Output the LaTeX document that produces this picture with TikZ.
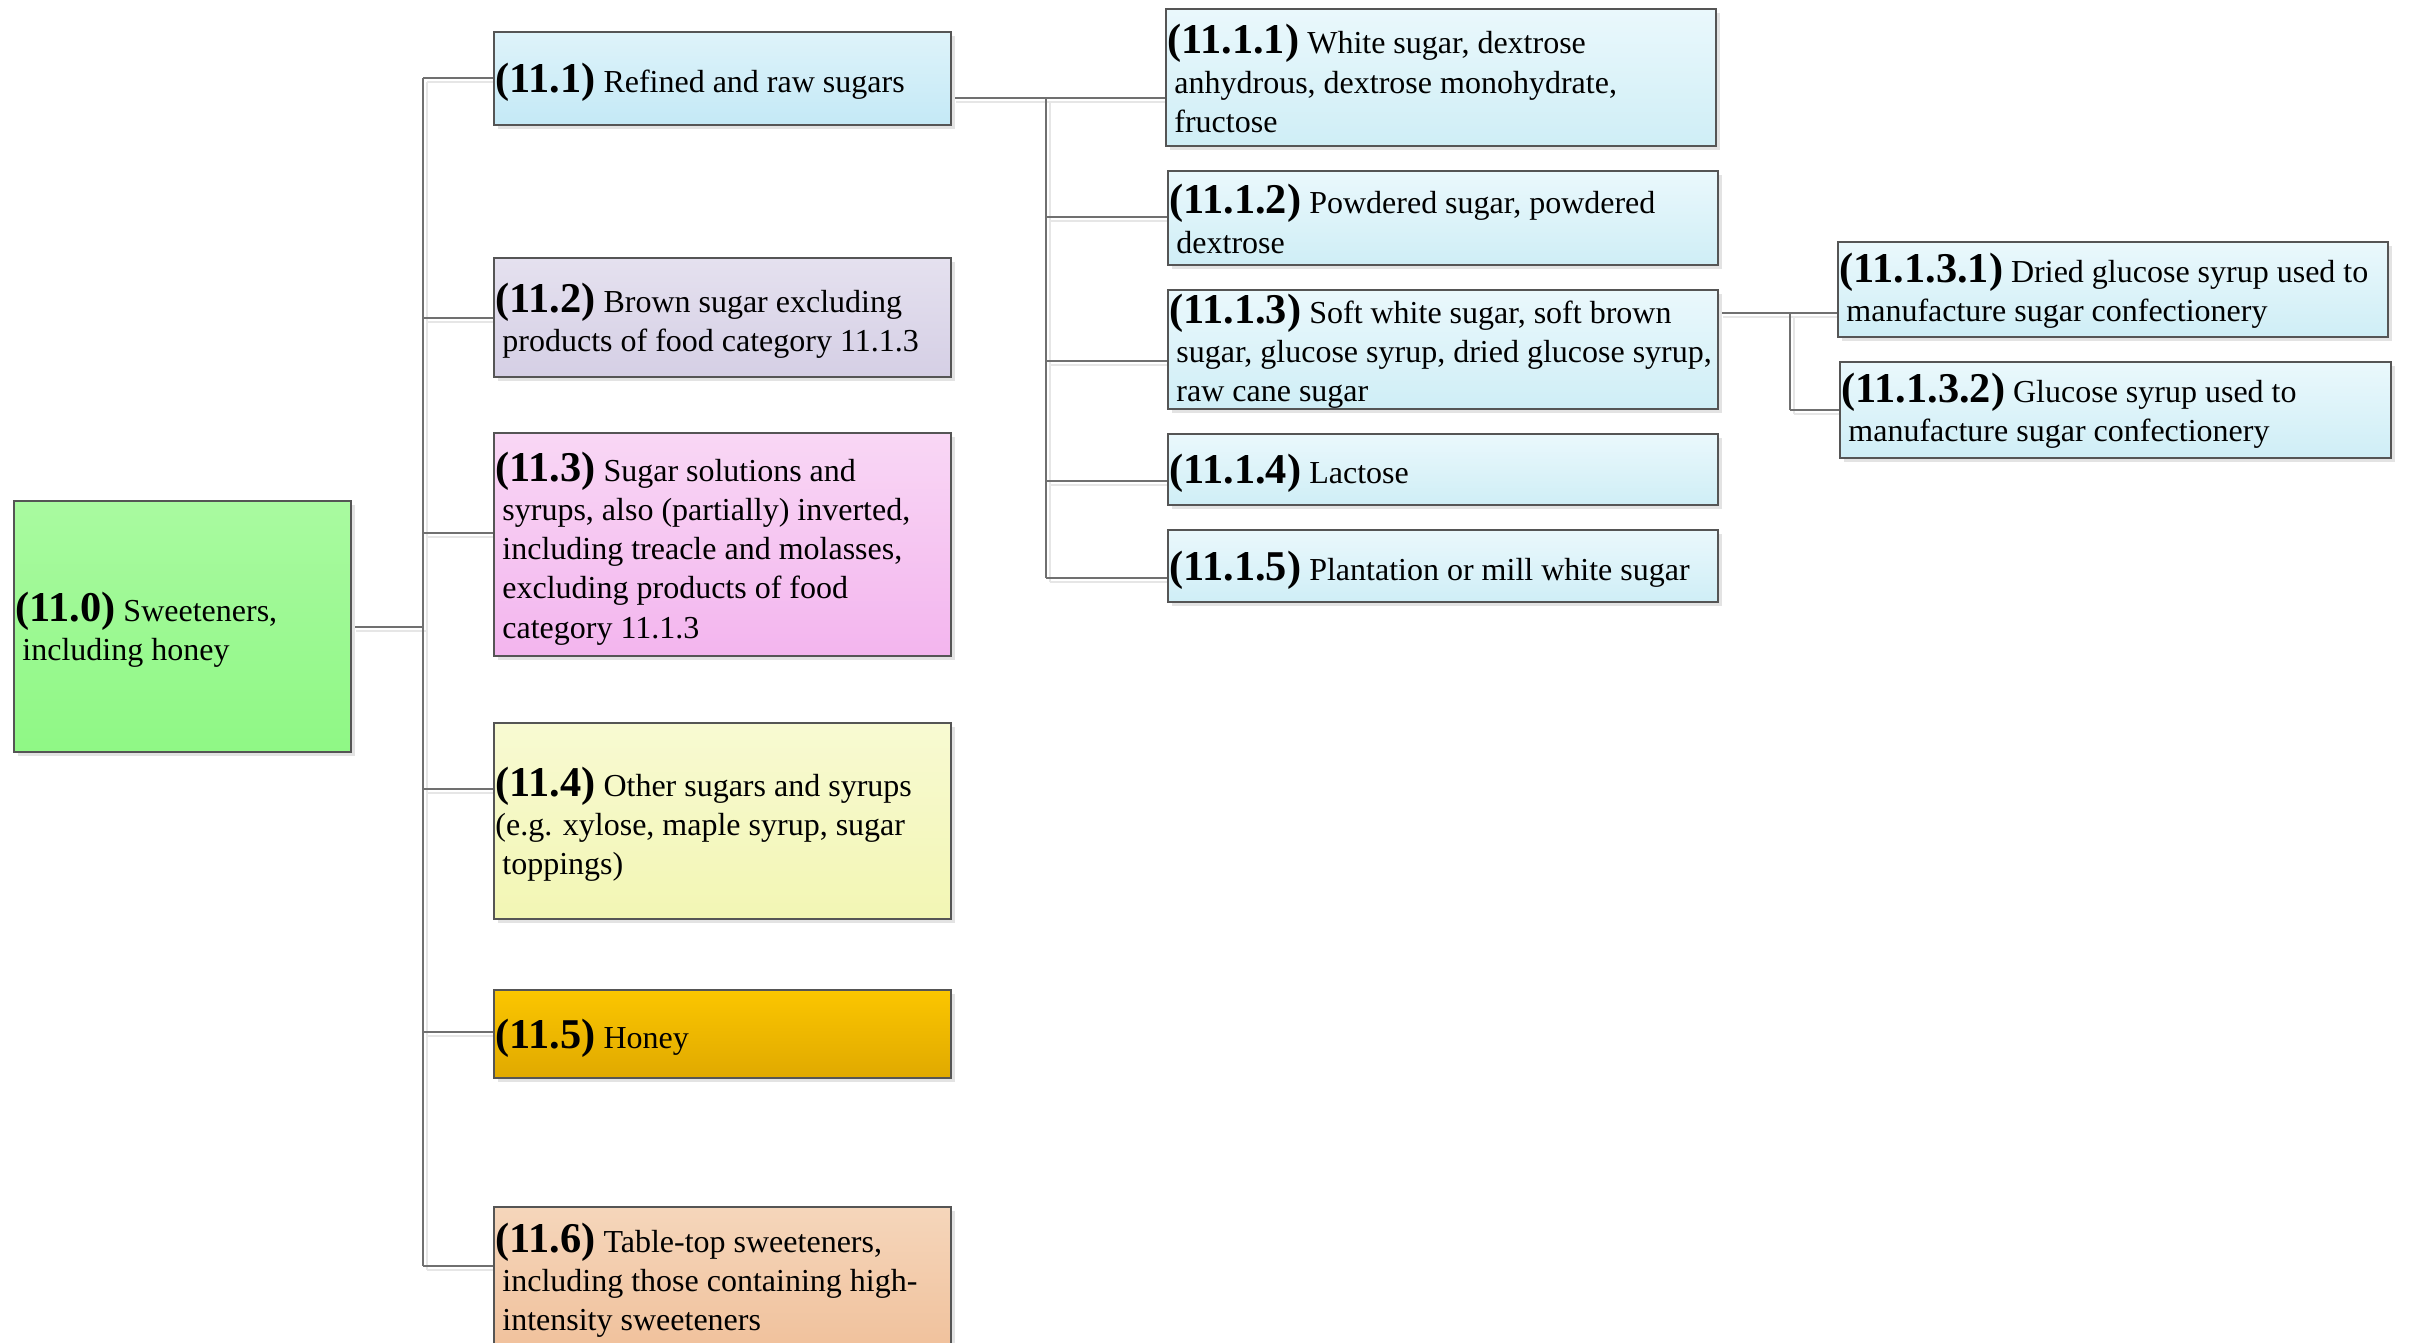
\documentclass[tikz,border=0pt]{standalone}
\usepackage{fontspec}
\setmainfont{Liberation Serif}
\usetikzlibrary{calc,shadows,backgrounds}

\definecolor{boxline}{HTML}{555555}
\definecolor{wire}{HTML}{707070}
\definecolor{wireshade}{HTML}{E6E6E6}

% bold category number
\newcommand{\catnum}[1]{{\fontsize{21.2pt}{24pt}\selectfont\bfseries #1}}

\tikzset{
  catbox/.style={draw=boxline, line width=1pt, inner sep=0pt, rectangle,
    general shadow={fill=black!11, shadow xshift=2pt, shadow yshift=-2pt}},
  greenfill/.style={top color={rgb,255:red,169;green,250;blue,160}, bottom color={rgb,255:red,143;green,248;blue,133}},
  bluefill/.style={top color={rgb,255:red,222;green,243;blue,250}, bottom color={rgb,255:red,196;green,233;blue,246}},
  cyanfill/.style={top color={rgb,255:red,234;green,248;blue,252}, bottom color={rgb,255:red,207;green,238;blue,246}},
  lilacfill/.style={top color={rgb,255:red,229;green,225;blue,239}, bottom color={rgb,255:red,213;green,207;blue,229}},
  pinkfill/.style={top color={rgb,255:red,249;green,215;blue,245}, bottom color={rgb,255:red,243;green,181;blue,238}},
  yellowfill/.style={top color={rgb,255:red,248;green,250;blue,210}, bottom color={rgb,255:red,242;green,246;blue,180}},
  orangefill/.style={top color={rgb,255:red,251;green,198;blue,0}, bottom color={rgb,255:red,224;green,169;blue,0}},
  peachfill/.style={top color={rgb,255:red,245;green,214;blue,187}, bottom color={rgb,255:red,240;green,192;blue,154}},
  txt/.style={anchor=west, align=left, inner sep=0pt,
    font=\fontsize{16pt}{19.6pt}\selectfont},
  conn/.style={draw=wire, line width=1pt},
  connshade/.style={draw=wireshade, line width=1pt},
}

% all connector paths, drawn once as a soft shadow and once as the line
\newcommand{\wirepaths}[1]{%
  % main trunk from 11.0
  \draw[#1] (n110.east) -- (n110.east -| trunk);
  \draw[#1] (trunk |- a111) -- (trunk |- a116);
  \draw[#1] (trunk |- a111) -- (a111);
  \draw[#1] (trunk |- a112) -- (a112);
  \draw[#1] (trunk |- a113) -- (a113);
  \draw[#1] (trunk |- a114) -- (a114);
  \draw[#1] (trunk |- a115) -- (a115);
  \draw[#1] (trunk |- a116) -- (a116);
  % branch from 11.1
  \draw[#1] (o111) -- (o111 -| trunkb);
  \draw[#1] (trunkb |- o111) -- (trunkb |- a1115);
  \draw[#1] (trunkb |- a1111) -- (a1111);
  \draw[#1] (trunkb |- a1112) -- (a1112);
  \draw[#1] (trunkb |- a1113) -- (a1113);
  \draw[#1] (trunkb |- a1114) -- (a1114);
  \draw[#1] (trunkb |- a1115) -- (a1115);
  % branch from 11.1.3
  \draw[#1] (o1113) -- (a11131);
  \draw[#1] (trunkc |- o1113) -- (trunkc |- a11132);
  \draw[#1] (trunkc |- a11132) -- (a11132);
}

\begin{document}
\begin{tikzpicture}[x=0.5pt, y=-0.5pt]
\useasboundingbox (0,0) rectangle (2411,1343);

% ---- boxes ----
\node[catbox, greenfill, minimum width=168.5pt, minimum height=125.5pt] (n110) at (182.5,626.5) {};
\node[catbox, bluefill,  minimum width=228.5pt, minimum height=46.5pt]  (n111) at (722.5,78.5) {};
\node[catbox, lilacfill, minimum width=228.5pt, minimum height=59.5pt]  (n112) at (722.5,317.5) {};
\node[catbox, pinkfill,  minimum width=228.5pt, minimum height=111.5pt] (n113) at (722.5,544.5) {};
\node[catbox, yellowfill,minimum width=228.5pt, minimum height=98pt]    (n114) at (722.5,821) {};
\node[catbox, orangefill,minimum width=228.5pt, minimum height=44pt]    (n115) at (722.5,1034) {};
\node[catbox, peachfill, minimum width=228.5pt, minimum height=75pt]    (n116) at (722.5,1282) {};

\node[catbox, cyanfill, minimum width=275pt, minimum height=68.5pt] (n1111) at (1441,77.5) {};
\node[catbox, cyanfill, minimum width=275pt, minimum height=47pt]   (n1112) at (1443,218) {};
\node[catbox, cyanfill, minimum width=275pt, minimum height=59.5pt] (n1113) at (1443,349.5) {};
\node[catbox, cyanfill, minimum width=275pt, minimum height=35.5pt] (n1114) at (1443,469.5) {};
\node[catbox, cyanfill, minimum width=275pt, minimum height=36pt]   (n1115) at (1443,566) {};

\node[catbox, cyanfill, minimum width=275pt, minimum height=47.5pt] (n11131) at (2113,289.5) {};
\node[catbox, cyanfill, minimum width=275.5pt, minimum height=48pt] (n11132) at (2115.5,410) {};

% ---- texts ----
\node[txt] (t110) at ($(n110.west)+(9,3)$) {\hspace*{-3.5pt}\catnum{(11.0)} Sweeteners,\\including honey};
\node[txt] (t111) at ($(n111.west)+(9,4)$) {\hspace*{-3.5pt}\catnum{(11.1)} Refined and raw sugars};
\node[txt] (t112) at ($(n112.west)+(9,3)$) {\hspace*{-3.5pt}\catnum{(11.2)} Brown sugar excluding\\products of food category 11.1.3};
\node[txt] (t113) at ($(n113.west)+(9,4)$) {\hspace*{-3.5pt}\catnum{(11.3)} Sugar solutions and\\syrups, also (partially) inverted,\\including treacle and molasses,\\excluding products of food\\category 11.1.3};
\node[txt] (t114) at ($(n114.west)+(9,3)$) {\hspace*{-3.5pt}\catnum{(11.4)} Other sugars and syrups\\\hspace*{-3.5pt}(e.g. xylose, maple syrup, sugar\\toppings)};
\node[txt] (t115) at ($(n115.west)+(9,4)$) {\hspace*{-3.5pt}\catnum{(11.5)} Honey};
\node[txt] (t116) at ($(n116.west)+(9,-2)$) {\hspace*{-3.5pt}\catnum{(11.6)} Table-top sweeteners,\\including those containing high-\\intensity sweeteners};

\node[txt] (t1111) at ($(n1111.west)+(9,1)$) {\hspace*{-3.5pt}\catnum{(11.1.1)} White sugar, dextrose\\anhydrous, dextrose monohydrate,\\fructose};
\node[txt] (t1112) at ($(n1112.west)+(9,1)$) {\hspace*{-3.5pt}\catnum{(11.1.2)} Powdered sugar, powdered\\dextrose};
\node[txt] (t1113) at ($(n1113.west)+(9,2)$) {\hspace*{-3.5pt}\catnum{(11.1.3)} Soft white sugar, soft brown\\sugar, glucose syrup, dried glucose syrup,\\raw cane sugar};
\node[txt] (t1114) at ($(n1114.west)+(9,4)$) {\hspace*{-3.5pt}\catnum{(11.1.4)} Lactose};
\node[txt] (t1115) at ($(n1115.west)+(9,4)$) {\hspace*{-3.5pt}\catnum{(11.1.5)} Plantation or mill white sugar};

\node[txt] (t11131) at ($(n11131.west)+(9,1)$) {\hspace*{-3.5pt}\catnum{(11.1.3.1)} Dried glucose syrup used to\\manufacture sugar confectionery};
\node[txt] (t11132) at ($(n11132.west)+(9,1)$) {\hspace*{-3.5pt}\catnum{(11.1.3.2)} Glucose syrup used to\\manufacture sugar confectionery};

% ---- connector attachment points ----
\coordinate (trunk)  at (423,0);
\coordinate (trunkb) at (1046,0);
\coordinate (trunkc) at (1790,0);
\coordinate (a111) at ($(n111.west)+(0,-0.5)$);
\coordinate (a112) at (n112.west);
\coordinate (a113) at ($(n113.west)+(0,-11.5)$);
\coordinate (a114) at ($(n114.west)+(0,-32)$);
\coordinate (a115) at ($(n115.west)+(0,-2)$);
\coordinate (a116) at ($(n116.west)+(0,-16)$);
\coordinate (o111) at ($(n111.east)+(0,19.5)$);
\coordinate (a1111) at ($(n1111.west)+(0,20.5)$);
\coordinate (a1112) at ($(n1112.west)+(0,-1)$);
\coordinate (a1113) at ($(n1113.west)+(0,11.5)$);
\coordinate (a1114) at ($(n1114.west)+(0,11.5)$);
\coordinate (a1115) at ($(n1115.west)+(0,12)$);
\coordinate (o1113) at ($(n1113.east)+(0,-36.5)$);
\coordinate (a11131) at (o1113 -| n11131.west);
\coordinate (a11132) at (n11132.west);

% ---- connectors ----
\begin{scope}[on background layer]
  \begin{scope}[transform canvas={shift={(2pt,-2pt)}}]
    \wirepaths{connshade}
  \end{scope}
  \wirepaths{conn}
\end{scope}
\end{tikzpicture}
\end{document}
